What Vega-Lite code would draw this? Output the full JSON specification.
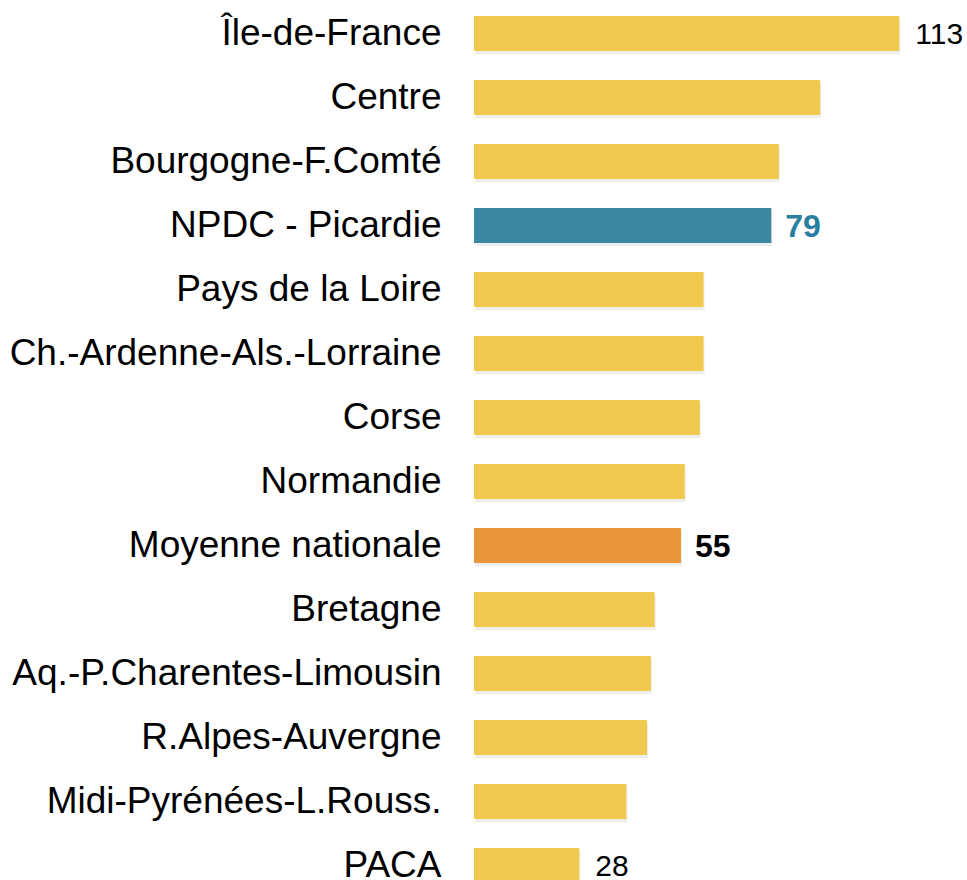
{
  "$schema": "https://vega.github.io/schema/vega-lite/v6.json",
  "width": 493,
  "height": 896,
  "autosize": "none",
  "padding": {"left": 474, "top": 1.5, "right": 0, "bottom": 0},
  "background": "white",
  "config": {"view": {"stroke": null}, "font": "Liberation Sans"},
  "data": {"values": [
    {"region": "Île-de-France", "value": 113, "type": "region"},
    {"region": "Centre", "value": 92, "type": "region"},
    {"region": "Bourgogne-F.Comté", "value": 81, "type": "region"},
    {"region": "NPDC - Picardie", "value": 79, "type": "npdc"},
    {"region": "Pays de la Loire", "value": 61, "type": "region"},
    {"region": "Ch.-Ardenne-Als.-Lorraine", "value": 61, "type": "region"},
    {"region": "Corse", "value": 60, "type": "region"},
    {"region": "Normandie", "value": 56, "type": "region"},
    {"region": "Moyenne nationale", "value": 55, "type": "moyenne"},
    {"region": "Bretagne", "value": 48, "type": "region"},
    {"region": "Aq.-P.Charentes-Limousin", "value": 47, "type": "region"},
    {"region": "R.Alpes-Auvergne", "value": 46, "type": "region"},
    {"region": "Midi-Pyrénées-L.Rouss.", "value": 40.5, "type": "region"},
    {"region": "PACA", "value": 28, "type": "region"}
  ]},
  "encoding": {
    "y": {
      "field": "region", "type": "nominal", "sort": null,
      "scale": {"paddingInner": 0.453, "paddingOuter": 0.2265},
      "axis": {"title": null, "domain": false, "ticks": false, "labelFontSize": 37, "labelColor": "#000000", "labelPadding": 33, "labelFont": "Liberation Sans", "labelLimit": 0}
    },
    "x": {
      "field": "value", "type": "quantitative",
      "scale": {"domain": [0, 131], "nice": false, "zero": true},
      "axis": null
    }
  },
  "layer": [
    {
      "mark": {"type": "bar", "color": "#555555", "opacity": 0.1, "yOffset": 3, "xOffset": 1},
      "encoding": {}
    },
    {
      "mark": {"type": "bar"},
      "encoding": {
        "color": {
          "field": "type", "type": "nominal", "legend": null,
          "scale": {"domain": ["region", "npdc", "moyenne"], "range": ["#F1C94F", "#3B86A0", "#E9953B"]}
        }
      }
    },
    {
      "transform": [{"filter": "datum.region === 'Île-de-France' || datum.region === 'PACA'"}],
      "mark": {"type": "text", "align": "left", "baseline": "middle", "dx": 16, "dy": 1, "fontSize": 30, "font": "Liberation Sans", "color": "#000000"},
      "encoding": {
        "text": {"field": "value", "type": "quantitative"}
      }
    },
    {
      "transform": [{"filter": "datum.type !== 'region'"}],
      "mark": {"type": "text", "align": "left", "baseline": "middle", "dx": 14, "dy": 1, "fontSize": 32, "fontWeight": "bold", "font": "Liberation Sans"},
      "encoding": {
        "text": {"field": "value", "type": "quantitative"},
        "color": {
          "field": "type", "type": "nominal", "legend": null,
          "scale": {"domain": ["npdc", "moyenne"], "range": ["#2A7EA0", "#000000"]}
        }
      }
    }
  ],
  "resolve": {"scale": {"color": "independent"}}
}
